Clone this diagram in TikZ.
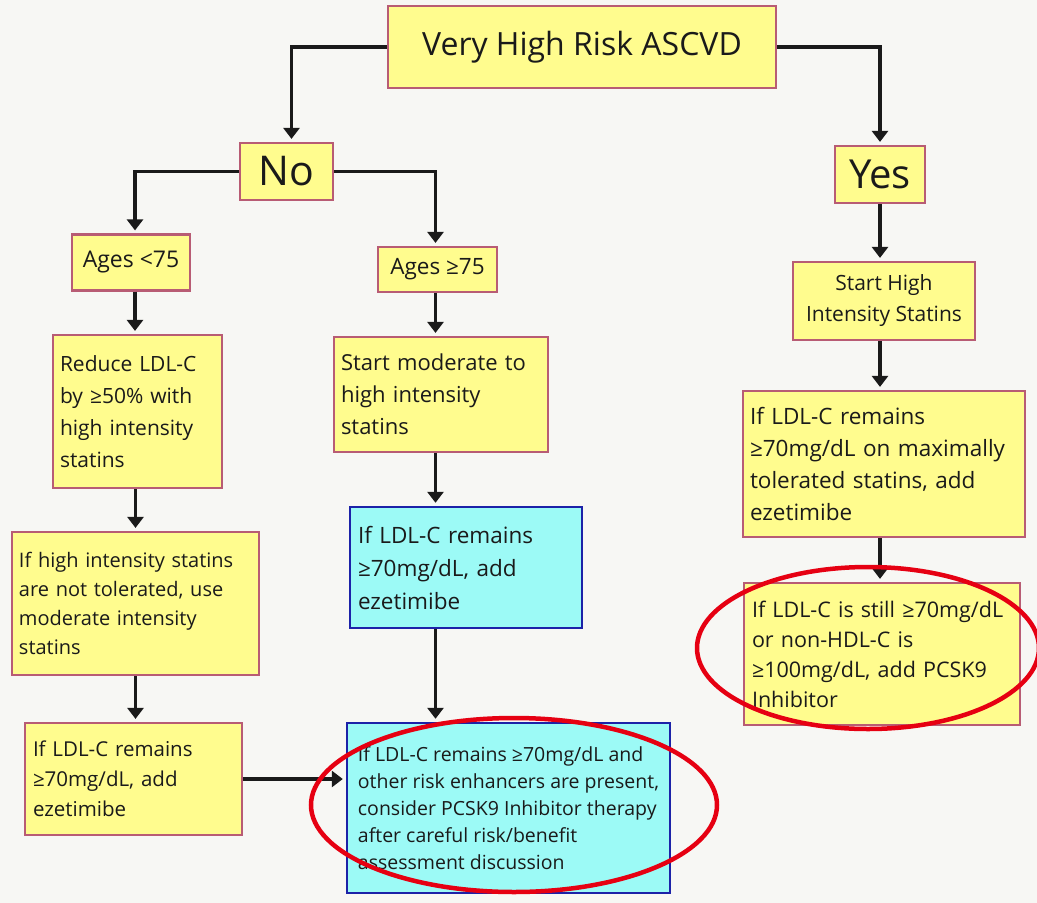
\documentclass[tikz,border=0pt]{standalone}
\usepackage{fontspec}
\setmainfont{Open Sans}
\usetikzlibrary{arrows.meta}
\definecolor{bg}{HTML}{F7F7F4}
\definecolor{yfill}{HTML}{FFFC8E}
\definecolor{ybord}{HTML}{B85C74}
\definecolor{cfill}{HTML}{9CFAF6}
\definecolor{cbord}{HTML}{1C22A8}
\definecolor{ink}{HTML}{1A1A1A}
\definecolor{mark}{HTML}{E60012}
\tikzset{
  ybox/.style={draw=ybord, fill=yfill, line width=2.2pt, inner xsep=7pt, inner ysep=2pt, align=left, text=ink},
  cbox/.style={draw=cbord, fill=cfill, line width=2.4pt, inner xsep=8pt, inner ysep=2pt, align=left, text=ink},
  arr/.style={draw=ink, line width=3.2pt, -{Triangle[length=11pt,width=16pt]}, shorten >=3pt},
  ring/.style={draw=mark, line width=4.5pt},
}
\newcommand{\fs}[2]{\fontsize{#1}{#2}\selectfont}
\begin{document}
\begin{tikzpicture}[x=1pt,y=-1pt]
\fill[bg] (0,0) rectangle (1037,903);
\path[use as bounding box] (0,0) rectangle (1037,903);
\clip (0,0) rectangle (1037,903);

% decision root and branches
\node[ybox, minimum width=388pt, minimum height=82pt, align=center, font=\fs{32}{38}] (top) at (582,47) {Very High Risk ASCVD};
\node[ybox, minimum width=93pt, minimum height=57pt, align=center, font=\fs{41}{48}] (no) at (286.5,171.5) {No};
\node[ybox, minimum width=90pt, minimum height=57pt, align=center, font=\fs{40}{48}] (yes) at (880,174.5) {Yes};

% left column: ages under 75
\node[ybox, minimum width=118pt, minimum height=56pt, align=center, font=\fs{23}{28}] (young) at (131,262.5) {Ages <75};
\node[ybox, minimum width=169pt, minimum height=153pt, text width=155pt, font=\fs{21}{32}] (reduce) at (137.5,411.5) {Reduce LDL-C\\by ≥50\% with\\high intensity\\statins};
\node[ybox, minimum width=247pt, minimum height=143pt, text width=233pt, font=\fs{20}{29}] (intol) at (135.5,603.5) {If high intensity statins\\are not tolerated, use\\moderate intensity\\statins};
\node[ybox, minimum width=217pt, minimum height=112pt, text width=201pt, inner xsep=8pt, font=\fs{20.5}{30}] (ezeL) at (133.5,779) {If LDL-C remains\\≥70mg/dL, add\\ezetimibe};

% middle column: ages 75 and over
\node[ybox, minimum width=119pt, minimum height=45pt, align=center, font=\fs{22.5}{28}] (old) at (437.5,269.5) {Ages ≥75};
\node[ybox, minimum width=214pt, minimum height=115pt, text width=200pt, font=\fs{22}{32}] (moder) at (441,394.5) {Start moderate to\\high intensity\\statins};
\node[cbox, minimum width=232pt, minimum height=121pt, text width=216pt, font=\fs{22.5}{33}] (ezeM) at (466,567.5) {If LDL-C remains\\≥70mg/dL, add\\ezetimibe};
\node[cbox, minimum width=323pt, minimum height=170pt, font=\fs{19.5}{27}] (pcskM) at (508.5,808) {If LDL-C remains ≥70mg/dL and\\other risk enhancers are present,\\consider PCSK9 Inhibitor therapy\\after careful risk/benefit\\assessment discussion};

% right column: very high risk
\node[ybox, minimum width=182pt, minimum height=78pt, align=center, font=\fs{21}{31}] (high) at (884,301) {Start High\\Intensity Statins};
\node[ybox, minimum width=282pt, minimum height=146pt, text width=268pt, font=\fs{22.5}{32}] (ezeR) at (884,464) {If LDL-C remains\\≥70mg/dL on maximally\\tolerated statins, add\\ezetimibe};
\node[ybox, minimum width=276pt, minimum height=142pt, text width=260pt, inner xsep=8pt, font=\fs{21.5}{30}] (pcskR) at (882,654) {If LDL-C is still ≥70mg/dL\\or non-HDL-C is\\≥100mg/dL, add PCSK9\\Inhibitor};

% connectors
\draw[arr] (top.west) -| ([xshift=5pt]no.north);
\draw[arr] (top.east) -| (yes.north);
\draw[arr] (no.west) -| ([xshift=4pt]young.north);
\draw[arr] (no.east) -| ([xshift=-2pt]old.north);

\draw[arr] ([xshift=4pt]young.south) -- ([xshift=4pt]young.south |- reduce.north);
\draw[arr] (reduce.south -| intol.north) -- (intol.north);
\draw[arr] (intol.south) -- (intol.south |- ezeL.north);
\draw[arr] (ezeL.east) -- (ezeL.east -| pcskM.west);

\draw[arr] ([xshift=-2pt]old.south) -- ([xshift=-2pt]old.south |- moder.north);
\draw[arr] ([xshift=-2pt]old.south |- moder.south) -- ([xshift=-2pt]old.south |- ezeM.north);
\draw[arr] ([xshift=-2pt]old.south |- ezeM.south) -- ([xshift=-2pt]old.south |- pcskM.north);

\draw[arr] (yes.south) -- (yes.south |- high.north);
\draw[arr] (yes.south |- high.south) -- (yes.south |- ezeR.north);
\draw[arr] (yes.south |- ezeR.south) -- (yes.south |- pcskR.north);

% highlight rings
\draw[ring] (514,805) ellipse [x radius=203, y radius=87];
\draw[ring] (868,648) ellipse [x radius=171, y radius=81];
\end{tikzpicture}
\end{document}
